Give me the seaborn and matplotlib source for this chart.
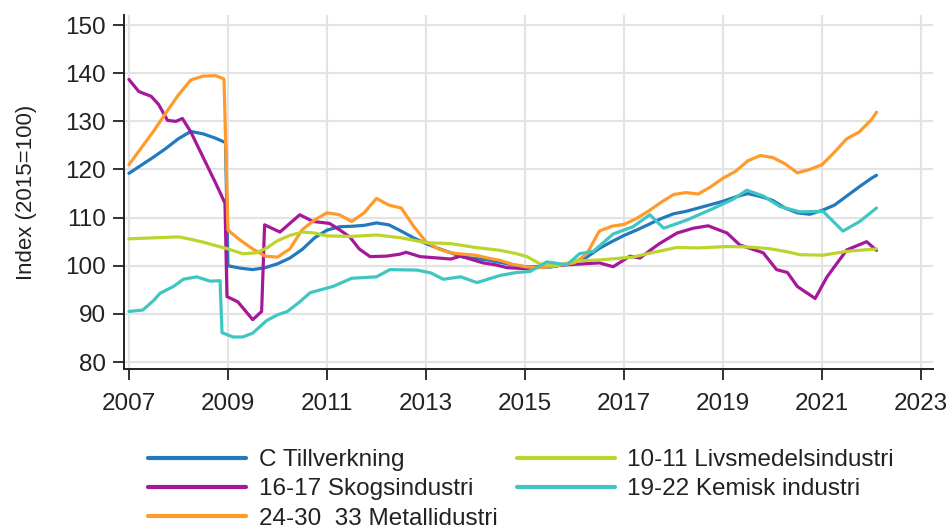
import pandas as pd
import numpy as np
import matplotlib
matplotlib.use("Agg")
import matplotlib.pyplot as plt
import seaborn as sns

### Data (decimal year, index 2015=100)
tillv_x = [2007.0, 2007.25, 2007.5, 2007.75, 2008.0, 2008.25, 2008.5, 2008.75, 2008.95, 2009.0,
           2009.25, 2009.5, 2009.75, 2010.0, 2010.25, 2010.5, 2010.75, 2011.0, 2011.25, 2011.5,
           2011.75, 2012.0, 2012.25, 2012.5, 2012.75, 2013.0, 2013.25, 2013.5, 2013.75, 2014.0,
           2014.25, 2014.5, 2014.75, 2015.0, 2015.25, 2015.5, 2015.75, 2016.0, 2016.25, 2016.5,
           2016.75, 2017.0, 2017.25, 2017.5, 2017.75, 2018.0, 2018.25, 2018.5, 2018.75, 2019.0,
           2019.25, 2019.5, 2019.75, 2020.0, 2020.25, 2020.5, 2020.75, 2021.0, 2021.25, 2021.5,
           2021.75, 2022.0, 2022.1]
tillv_y = [119.2, 120.9, 122.6, 124.4, 126.4, 127.9, 127.4, 126.5, 125.6, 100.0,
           99.5, 99.2, 99.6, 100.4, 101.6, 103.4, 105.8, 107.4, 108.1, 108.2,
           108.4, 108.9, 108.5, 107.2, 105.8, 104.6, 103.6, 102.7, 101.8, 101.5,
           101.2, 100.7, 100.2, 99.8, 99.8, 99.7, 100.2, 100.8, 101.8, 103.6,
           105.0, 106.3, 107.4, 108.6, 109.8, 110.8, 111.3, 112.0, 112.7, 113.4,
           114.3, 115.0, 114.4, 113.6, 112.0, 111.0, 110.7, 111.5, 112.6, 114.5,
           116.4, 118.2, 118.8]

metall_x = [2007.0, 2007.25, 2007.5, 2007.75, 2008.0, 2008.25, 2008.5, 2008.75, 2008.92, 2009.0,
            2009.25, 2009.5, 2009.75, 2010.0, 2010.25, 2010.5, 2010.75, 2011.0, 2011.25, 2011.5,
            2011.75, 2012.0, 2012.25, 2012.5, 2012.75, 2013.0, 2013.25, 2013.5, 2013.75, 2014.0,
            2014.25, 2014.5, 2014.75, 2015.0, 2015.25, 2015.5, 2015.75, 2016.0, 2016.25, 2016.5,
            2016.75, 2017.0, 2017.25, 2017.5, 2017.75, 2018.0, 2018.25, 2018.5, 2018.75, 2019.0,
            2019.25, 2019.5, 2019.75, 2020.0, 2020.25, 2020.5, 2020.75, 2021.0, 2021.25, 2021.5,
            2021.75, 2022.0, 2022.1]
metall_y = [121.0, 124.5, 128.0, 131.8, 135.5, 138.6, 139.4, 139.5, 138.8, 107.4,
            105.3, 103.5, 102.0, 101.8, 103.5, 107.5, 109.5, 111.0, 110.6, 109.2,
            111.0, 114.0, 112.6, 112.0, 108.2, 105.0, 103.5, 102.7, 102.4, 102.2,
            101.6, 101.1, 100.3, 99.8, 99.6, 99.8, 100.2, 100.6, 102.5, 107.2,
            108.2, 108.6, 109.8, 111.4, 113.2, 114.8, 115.2, 114.9, 116.4, 118.2,
            119.6, 121.8, 122.9, 122.5, 121.2, 119.3, 120.0, 121.0, 123.6, 126.4,
            127.8, 130.4, 131.9]

skog_x = [2007.0, 2007.2, 2007.45, 2007.6, 2007.78, 2007.95, 2008.08, 2008.25, 2008.5, 2008.75,
          2008.94, 2008.98, 2009.2, 2009.5, 2009.68, 2009.74, 2010.05, 2010.25, 2010.45, 2010.72,
          2011.05, 2011.25, 2011.46, 2011.65, 2011.87, 2012.2, 2012.47, 2012.6, 2012.88, 2013.25,
          2013.5, 2013.7, 2014.15, 2014.4, 2014.64, 2015.0, 2015.16, 2015.5, 2015.85, 2016.5,
          2016.78, 2017.12, 2017.32, 2017.7, 2018.07, 2018.4, 2018.7, 2019.08, 2019.34, 2019.81,
          2020.08, 2020.3, 2020.5, 2020.86, 2021.1, 2021.5, 2021.9, 2022.1]
skog_y = [138.7, 136.2, 135.2, 133.5, 130.2, 130.0, 130.6, 127.8, 122.5, 117.2,
          113.0, 93.6, 92.5, 88.8, 90.5, 108.5, 107.0, 108.8, 110.6, 109.2,
          108.8, 107.5, 106.0, 103.5, 101.9, 102.0, 102.4, 102.8, 101.9, 101.6,
          101.4, 102.0, 100.6, 100.2, 99.6, 99.4, 99.6, 99.9, 100.2, 100.6,
          99.8, 102.0, 101.6, 104.5, 106.8, 107.8, 108.3, 106.8, 104.3, 102.7,
          99.2, 98.6, 95.7, 93.2, 97.7, 103.3, 105.0, 103.2]

livs_x = [2007.0, 2007.5, 2008.0, 2008.25, 2008.5, 2008.75, 2009.0, 2009.3, 2009.58, 2009.8,
          2010.0, 2010.25, 2010.5, 2010.75, 2011.0, 2011.5, 2012.0, 2012.5, 2013.0, 2013.5,
          2014.0, 2014.5, 2014.83, 2015.04, 2015.3, 2015.6, 2016.05, 2016.5, 2017.18, 2017.6,
          2018.07, 2018.5, 2019.08, 2019.5, 2019.9, 2020.25, 2020.55, 2021.02, 2021.5, 2022.1]
livs_y = [105.6, 105.8, 106.0, 105.5, 104.9, 104.2, 103.5, 102.5, 102.7, 103.8,
          105.2, 106.3, 107.0, 106.8, 106.2, 106.1, 106.4, 105.8, 104.8, 104.6,
          103.8, 103.2, 102.5, 101.9, 100.4, 100.0, 101.0, 101.2, 101.8, 102.8,
          103.8, 103.7, 104.0, 103.9, 103.6, 103.0, 102.3, 102.2, 103.0, 103.5]

kemi_x = [2007.0, 2007.28, 2007.5, 2007.63, 2007.9, 2008.1, 2008.37, 2008.64, 2008.84, 2008.88,
          2009.1, 2009.3, 2009.5, 2009.78, 2010.0, 2010.2, 2010.45, 2010.66, 2011.12, 2011.5,
          2012.0, 2012.27, 2012.82, 2013.1, 2013.35, 2013.7, 2014.03, 2014.5, 2014.83, 2015.1,
          2015.44, 2015.85, 2016.1, 2016.38, 2016.78, 2017.18, 2017.52, 2017.8, 2018.27, 2018.8,
          2019.2, 2019.48, 2019.81, 2020.15, 2020.55, 2021.02, 2021.42, 2021.76, 2022.1]
kemi_y = [90.5, 90.8, 92.8, 94.3, 95.7, 97.2, 97.7, 96.8, 96.9, 86.1,
          85.2, 85.2, 86.0, 88.6, 89.8, 90.5, 92.5, 94.4, 95.7, 97.4,
          97.7, 99.2, 99.1, 98.5, 97.2, 97.7, 96.5, 98.0, 98.6, 98.8,
          100.8, 100.2, 102.5, 103.0, 106.6, 108.1, 110.6, 107.8, 109.5, 111.9,
          113.8, 115.7, 114.5, 112.3, 111.2, 111.3, 107.2, 109.2, 112.0]

series_names = ["C Tillverkning", "16-17 Skogsindustri", "24-30  33 Metallidustri",
                "10-11 Livsmedelsindustri", "19-22 Kemisk industri"]
series_colors = ["#2279bd", "#a5189a", "#ff9b2d", "#bcd52e", "#3fc6c2"]
x_ticks = [2007, 2009, 2011, 2013, 2015, 2017, 2019, 2021, 2023]
y_ticks = [80, 90, 100, 110, 120, 130, 140, 150]

### Long table for seaborn
parts = []
for name, xs, ys in zip(series_names,
                        [tillv_x, skog_x, metall_x, livs_x, kemi_x],
                        [tillv_y, skog_y, metall_y, livs_y, kemi_y]):
    parts.append(pd.DataFrame({"year": xs, "index": ys, "serie": name}))
df = pd.concat(parts, ignore_index=True)

sns.set_style("white")
plt.rcParams["font.family"] = ["Liberation Sans", "DejaVu Sans"]

fig = plt.figure(figsize=(9.53, 5.32), dpi=100)
ax = fig.add_axes([0.1301, 0.3064, 0.979 - 0.1301, 0.9718 - 0.3064])

sns.lineplot(data=df, x="year", y="index", hue="serie", hue_order=series_names,
             palette=dict(zip(series_names, series_colors)), estimator=None, sort=False,
             linewidth=2.3, ax=ax)

ax.set_xlim(2006.9, 2023.24)
ax.set_ylim(78.55, 152.1)
ax.set_xticks(x_ticks)
ax.set_yticks(y_ticks)
ax.grid(True, color="#e3e3e3", linewidth=1.5)
ax.set_axisbelow(True)
for s in ["top", "right"]:
    ax.spines[s].set_visible(False)
for s in ["left", "bottom"]:
    ax.spines[s].set_color("#222222")
    ax.spines[s].set_linewidth(1.4)
ax.tick_params(axis="both", direction="out", length=8, width=1.3, color="#222222",
               labelsize=17.5, labelcolor="#222222", pad=5, left=True, bottom=True)
ax.tick_params(axis="x", pad=9)
ax.set_xlabel("")
ax.set_ylabel("Index (2015=100)", fontsize=16, color="#222222", labelpad=20)

handles, labels = ax.get_legend_handles_labels()
ax.get_legend().remove()
leg = fig.legend(handles, labels, loc="upper left", bbox_to_anchor=(148 / 953, 1 - 449 / 532),
                 ncol=2, frameon=False, fontsize=17.5, handlelength=4.05, handletextpad=0.5,
                 columnspacing=0.8, labelspacing=0.3, borderpad=0, borderaxespad=0)
for line in leg.get_lines():
    line.set_linewidth(3)
for t in leg.get_texts():
    t.set_color("#222222")

plt.savefig("out.png", dpi=100)
